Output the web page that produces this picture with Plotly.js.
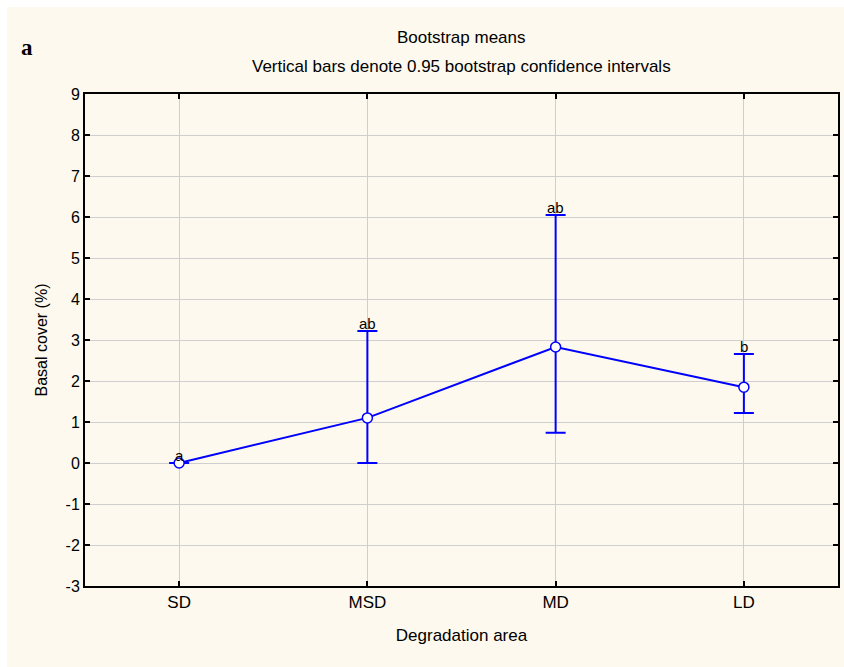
<!DOCTYPE html>
<html>
<head>
<meta charset="utf-8">
<script src="https://cdn.plot.ly/plotly-3.0.1.min.js"></script>
<style>html,body{margin:0;padding:0;background:#fff;}#chart{width:844px;height:667px;}</style>
</head>
<body>
<div id="chart"></div>
<script>
const categories = ["SD", "MSD", "MD", "LD"];
const means = [0.0, 1.10, 2.83, 1.85];
const ciUpper = [0.0, 3.22, 6.05, 2.66];
const ciLower = [0.0, 0.0, 0.74, 1.22];
const letters = ["a", "ab", "ab", "b"];
const yTicks = [-3, -2, -1, 0, 1, 2, 3, 4, 5, 6, 7, 8, 9];
const yTickText = ["-3", "-2", "-1", "0", "1", "2", "3", "4", "5", "6", "7", "8", "9"];

const font = "'Liberation Sans', Arial, sans-serif";

const trace = {
  x: categories,
  y: means,
  type: "scatter",
  mode: "lines+markers",
  line: {color: "#0000ff", width: 2},
  marker: {size: 10, color: "#ffffff", line: {color: "#0000ff", width: 1.5}},
  error_y: {
    type: "data",
    symmetric: false,
    array: ciUpper.map((u, i) => u - means[i]),
    arrayminus: means.map((m, i) => m - ciLower[i]),
    color: "#0000ff",
    thickness: 2,
    width: 10
  },
  hoverinfo: "skip",
  cliponaxis: false
};

const annotations = letters.map((t, i) => ({
  x: categories[i], y: ciUpper[i], xref: "x", yref: "y",
  text: t, showarrow: false, yanchor: "bottom", yshift: -3,
  font: {family: font, size: 15, color: "#000"}
}));
annotations.push(
  {xref: "paper", yref: "paper", x: 0.5, y: 1, yshift: 57, xanchor: "center", yanchor: "middle",
   text: "Bootstrap means", showarrow: false, font: {family: font, size: 17, color: "#000"}},
  {xref: "paper", yref: "paper", x: 0.5, y: 1, yshift: 28, xanchor: "center", yanchor: "middle",
   text: "Vertical bars denote 0.95 bootstrap confidence intervals", showarrow: false, font: {family: font, size: 17, color: "#000"}},
  {xref: "paper", yref: "paper", x: -0.077, y: 1, xanchor: "center", yanchor: "middle", yshift: 47,
   text: "<b>a</b>", showarrow: false, font: {family: "'Liberation Serif', 'Times New Roman', serif", size: 23, color: "#000"}}
);

const layout = {
  width: 844, height: 667,
  margin: {l: 85, r: 6, t: 94, b: 81},
  paper_bgcolor: "#ffffff",
  plot_bgcolor: "#ffffff",
  showlegend: false,
  font: {family: font, size: 16, color: "#000"},
  shapes: [{type: "rect", xref: "paper", yref: "paper", layer: "below",
    x0: -78/753, x1: 1 + 10/753, y0: -95/492, y1: 1 + 87/492,
    fillcolor: "#fef9ee", line: {width: 0}}],
  xaxis: {
    type: "category", range: [-0.5, 3.5],
    showgrid: true, gridcolor: "#cfcfcf", gridwidth: 1,
    showline: true, linecolor: "#000", linewidth: 2, mirror: "ticks",
    ticks: "inside", ticklen: 5, tickwidth: 2, tickcolor: "#000",
    tickfont: {family: font, size: 17, color: "#000"},
    title: {text: "Degradation area", font: {family: font, size: 17, color: "#000"}, standoff: 18},
    zeroline: false, fixedrange: true
  },
  yaxis: {
    range: [-3, 9], tickvals: yTicks, ticktext: yTickText,
    showgrid: true, gridcolor: "#cfcfcf", gridwidth: 1,
    showline: true, linecolor: "#000", linewidth: 2, mirror: "ticks",
    ticks: "inside", ticklen: 5, tickwidth: 2, tickcolor: "#000",
    tickfont: {family: font, size: 16, color: "#000"},
    title: {text: "Basal cover (%)", font: {family: font, size: 16, color: "#000"}, standoff: 14},
    zeroline: false, fixedrange: true
  },
  annotations: annotations
};

Plotly.newPlot("chart", [trace], layout, {displayModeBar: false, staticPlot: true});
</script>
</body>
</html>
